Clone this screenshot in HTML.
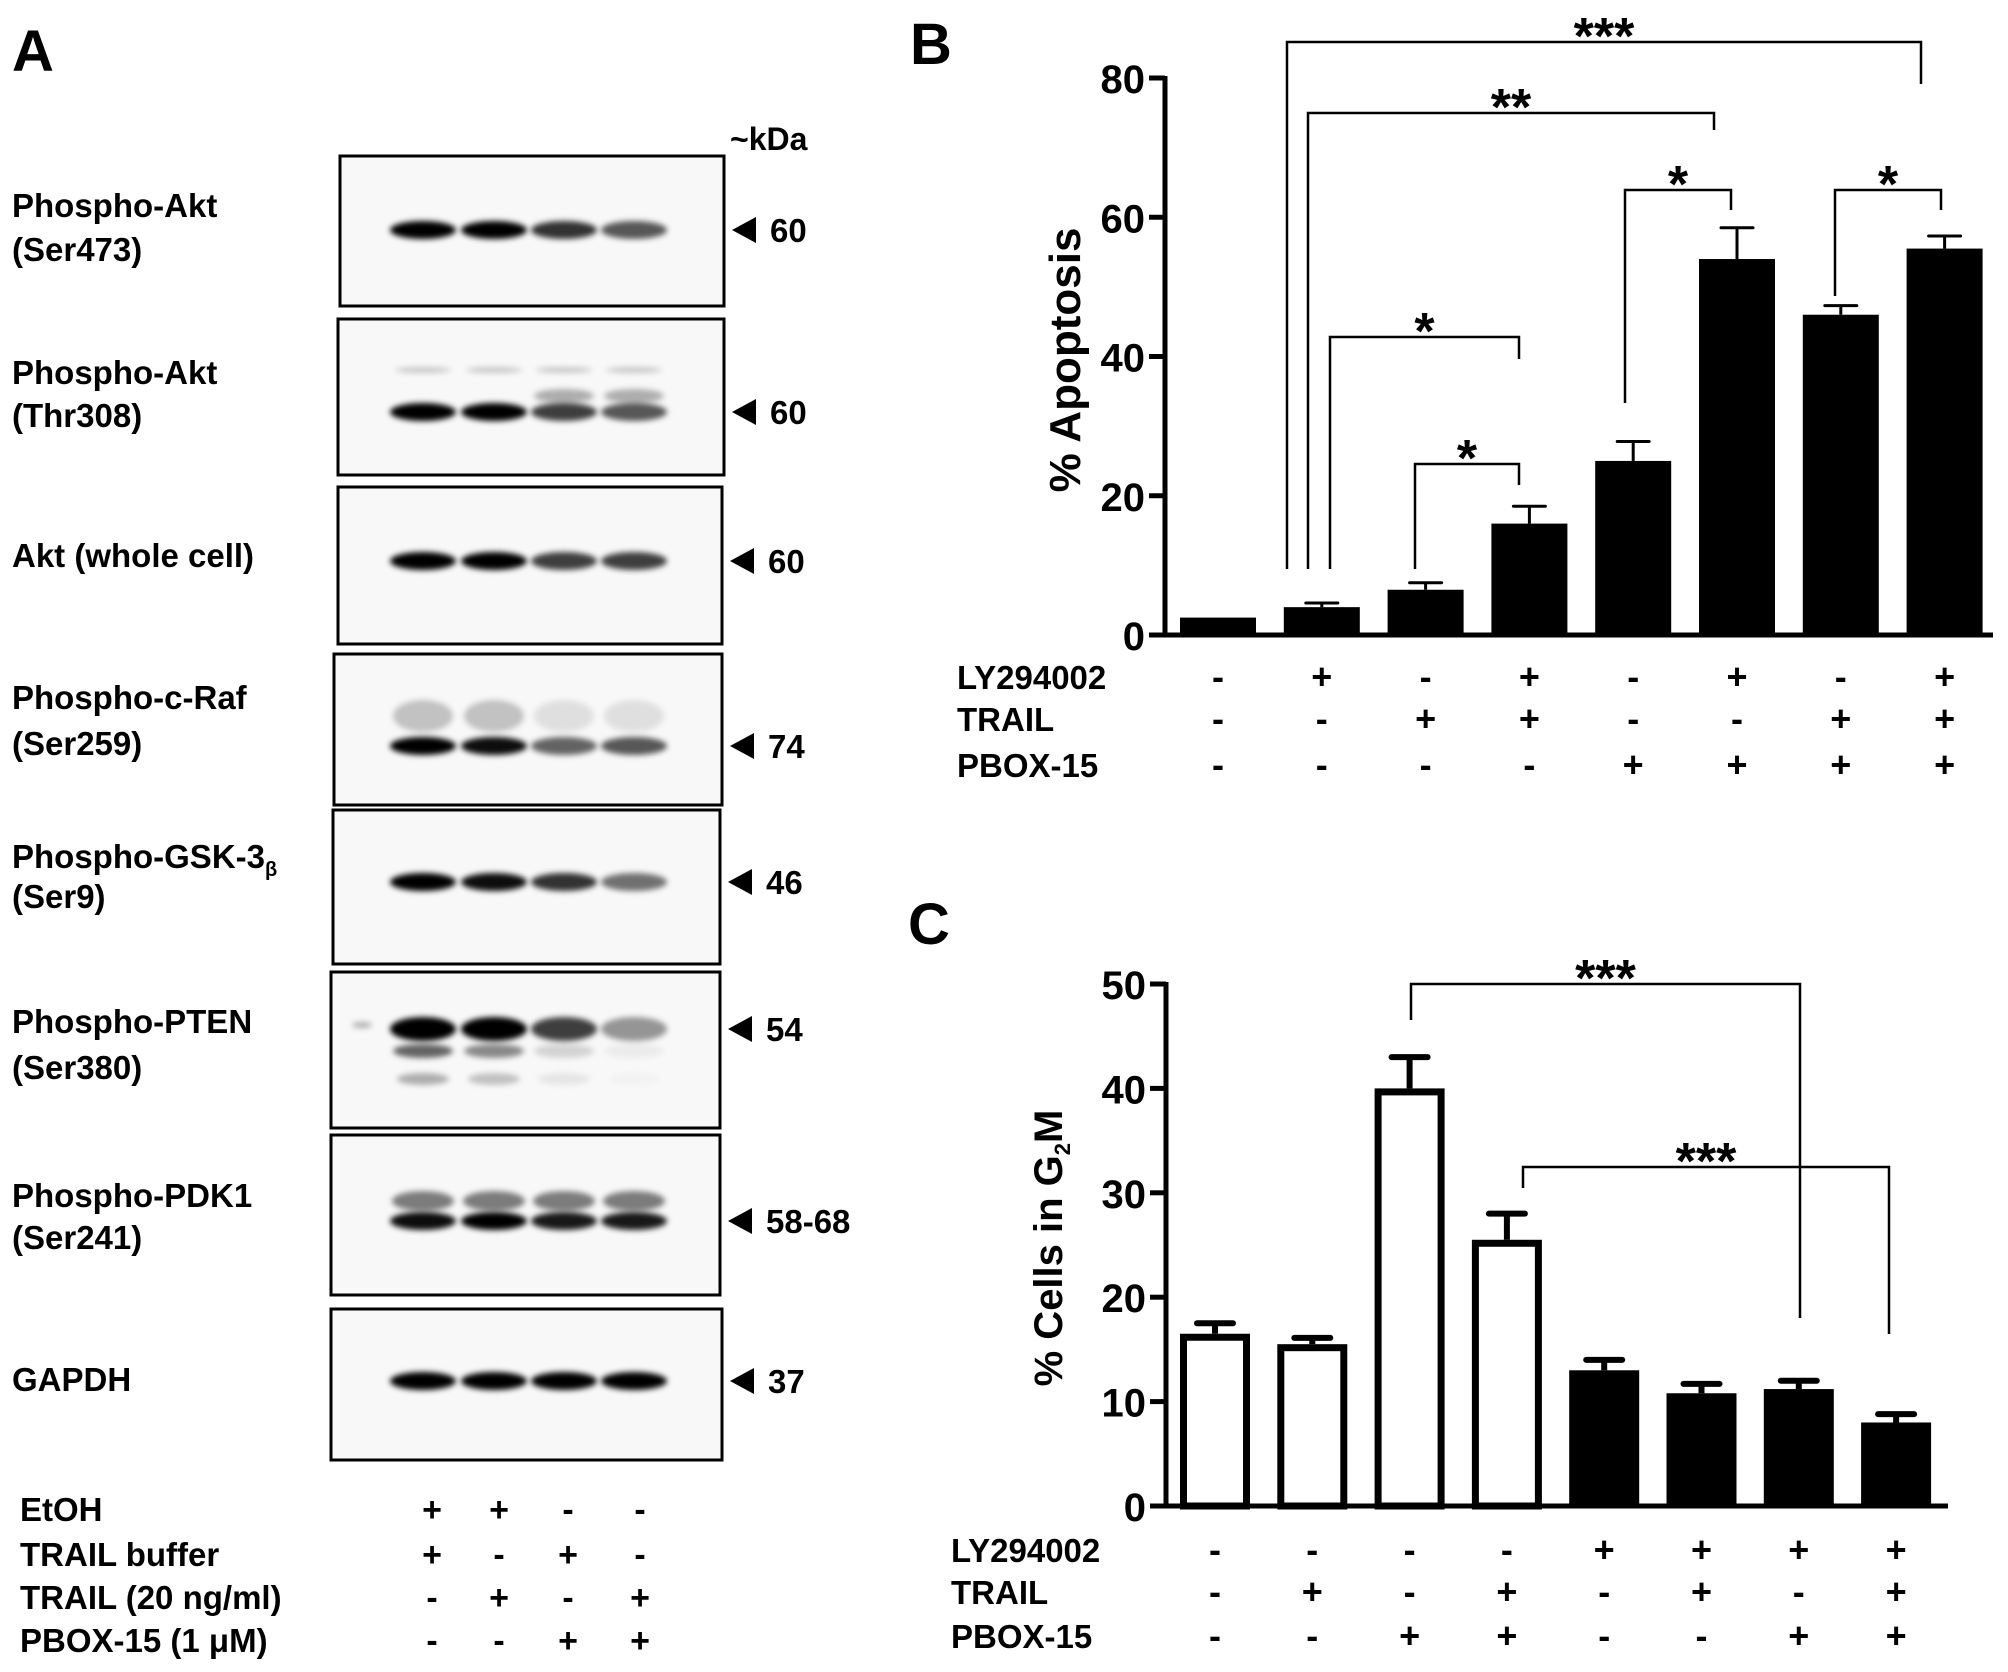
<!DOCTYPE html>
<html><head><meta charset="utf-8"><style>
html,body{margin:0;padding:0;background:#fff}
svg{display:block}
text{font-family:"Liberation Sans",Arial,sans-serif;font-weight:bold;fill:#000}
</style></head><body>
<svg id="fig" width="2008" height="1672" viewBox="0 0 2008 1672" xmlns="http://www.w3.org/2000/svg">
<defs>
<filter id="blur" x="-30%" y="-100%" width="160%" height="300%"><feGaussianBlur stdDeviation="3"/></filter>
</defs>
<text x="12" y="71" font-size="58">A</text>
<text x="910" y="64" font-size="58">B</text>
<text x="908" y="944" font-size="58">C</text>
<g id="blots"></g>
<g id="chartB"></g>
<g id="chartC"></g>
</svg>
<script>
const NS="http://www.w3.org/2000/svg";
function mk(parent,tag,attrs,txt){const e=document.createElementNS(NS,tag);for(const k in attrs)e.setAttribute(k,attrs[k]);if(txt!==undefined)e.textContent=txt;parent.appendChild(e);return e;}

// ---------- Panel A: western blots ----------
const blotNames=["Phospho-Akt (Ser473)","Phospho-Akt (Thr308)","Akt (whole cell)","Phospho-c-Raf (Ser259)","Phospho-GSK-3β (Ser9)","Phospho-PTEN (Ser380)","Phospho-PDK1 (Ser241)","GAPDH"];
const blotKda=["60","60","60","74","46","54","58-68","37"];
const bandMain=[[1,1,0.8,0.65],[1,1,0.75,0.65],[1,1,0.75,0.75],[1,0.95,0.6,0.65],[1,0.95,0.8,0.55],[1,1,0.75,0.4],[0.95,1,0.9,0.9],[1,1,1,1]];
const blotBoxes=[[340,156,724,306],[338,319,724,475],[338,487,722,644],[334,654,722,805],[333,810,720,964],[331,972,720,1128],[331,1135,720,1295],[331,1309,722,1460]];
const blotLabelY=[[205,249],[372,415],[555],[697,743],[856,896],[1021,1067],[1195,1237],[1379]];
const blotBandY=[230,412,561,746,882,1029,1221,1381];
const laneX=[423,494,564,634];
const A=document.getElementById('blots');
mk(A,'text',{x:730,y:150,'font-size':32,},'~kDa');
blotNames.forEach((nm,i)=>{
  const b=blotBoxes[i];
  const g=mk(A,'g',{});
  
  
  mk(g,'rect',{x:b[0],y:b[1],width:b[2]-b[0],height:b[3]-b[1],fill:'#f8f8f8',stroke:'#000','stroke-width':3});
  const parts=i===2||i===7?[nm]:[nm.slice(0,nm.indexOf(' (')),nm.slice(nm.indexOf(' (')+1)];
  parts.forEach((p,j)=>{
    const t=mk(g,'text',{x:12,y:blotLabelY[i][j]+12,'font-size':33},p.replace('3β','3'));
    
    
    if(p.indexOf('3β')>=0){mk(t,'tspan',{'font-size':20,dy:8},'β');}
  });
  const by=blotBandY[i];
  if(i===1){laneX.forEach((x,k)=>{mk(g,'ellipse',{cx:x,cy:by-42,rx:28,ry:3,fill:'#000','fill-opacity':0.2,filter:'url(#blur)'});if(k>1)mk(g,'ellipse',{cx:x,cy:by-16,rx:30,ry:7,fill:'#000','fill-opacity':0.3,filter:'url(#blur)'});});}
  if(i===3){laneX.forEach((x,k)=>{mk(g,'ellipse',{cx:x,cy:by-30,rx:30,ry:16,fill:'#000','fill-opacity':k<2?0.22:0.1,filter:'url(#blur)'});});}
  if(i===5){const s=[0.6,0.45,0.15,0.05];laneX.forEach((x,k)=>{mk(g,'ellipse',{cx:x,cy:by+22,rx:30,ry:7,fill:'#000','fill-opacity':s[k],filter:'url(#blur)'});mk(g,'ellipse',{cx:x,cy:by+50,rx:26,ry:6,fill:'#000','fill-opacity':s[k]*0.5,filter:'url(#blur)'});});mk(g,'ellipse',{cx:362,cy:by-4,rx:10,ry:3,fill:'#000','fill-opacity':0.3,filter:'url(#blur)'});}
  if(i===6){laneX.forEach((x,k)=>{mk(g,'ellipse',{cx:x,cy:by-20,rx:31,ry:10,fill:'#000','fill-opacity':0.5,filter:'url(#blur)'});});}
  bandMain[i].forEach((v,k)=>{
    const e=mk(g,'ellipse',{cx:laneX[k],cy:by,rx:33,ry:i===5?12:9,fill:'#000','fill-opacity':v,filter:'url(#blur)'});
    
    
  });
  mk(g,'polygon',{points:`${b[2]+8},${by} ${b[2]+32},${by-13} ${b[2]+32},${by+13}`,fill:'#000'});
  const kt=mk(g,'text',{x:b[2]+46,y:by+12,'font-size':33},blotKda[i]);
  
  
});
const treatNames=["EtOH","TRAIL buffer","TRAIL (20 ng/ml)","PBOX-15 (1 μM)"];
const treatSigns=[["+","+","-","-"],["+","-","+","-"],["-","+","-","+"],["-","-","+","+"]];
const treatY=[1509,1554,1597,1640];
const treatX=[432,499,568,640];
treatNames.forEach((n,r)=>{
  const t=mk(A,'text',{x:20,y:treatY[r]+12,'font-size':33},n);
  
  
  treatSigns[r].forEach((s,k)=>{mk(A,'text',{x:treatX[k],y:treatY[r]+12,'font-size':34,'text-anchor':'middle'},s);});
});

// ---------- Panel B ----------
const bCategories=["1","2","3","4","5","6","7","8"];
const bValues=[2.5,4,6.5,16,25,54,46,55.5];
const bErrors=[0,0.6,1,2.5,2.8,4.5,1.3,1.8];
const bTicks=[0,20,40,60,80];
const bLY=["-","+","-","+","-","+","-","+"];
const bTRAIL=["-","-","+","+","-","-","+","+"];
const bPBOX=["-","-","-","-","+","+","+","+"];
// ---------- Panel C ----------
const cCategories=["1","2","3","4","5","6","7","8"];
const cValues=[16.5,15.5,40,25.5,13,10.8,11.2,8];
const cErrors=[1,0.6,3,2.5,1,0.9,0.8,0.8];
const cFilled=[0,0,0,0,1,1,1,1];
const cTicks=[0,10,20,30,40,50];
const cLY=["-","-","-","-","+","+","+","+"];
const cTRAIL=["-","+","-","+","-","+","-","+"];
const cPBOX=["-","-","+","+","-","-","+","+"];

function drawChart(G,o){
  const y=v=>o.y0-(v-o.ymin)/(o.ymax-o.ymin)*(o.y0-o.ytop);
  const x=i=>o.x0+i*o.step;
  o.vals.forEach((v,i)=>{
    const cx=x(i);
    if(o.errs[i]>0){
      mk(G,'line',{x1:cx,y1:y(v),x2:cx,y2:y(v+o.errs[i]),stroke:'#000','stroke-width':o.ew});
      mk(G,'line',{x1:cx-o.cap,y1:y(v+o.errs[i]),x2:cx+o.cap,y2:y(v+o.errs[i]),stroke:'#000','stroke-width':o.ew,'stroke-linecap':'round'});
    }
    const filled=o.filled?o.filled[i]:1;
    const sw=7;
    const r=filled?mk(G,'rect',{x:cx-o.bw/2,y:y(v),width:o.bw,height:o.y0-y(v),fill:'#000'}):
      mk(G,'rect',{x:cx-o.bw/2+sw/2,y:y(v)+sw/2,width:o.bw-sw,height:o.y0-y(v)-sw/2,fill:'#fff',stroke:'#000','stroke-width':sw});
    
    
  });
  mk(G,'line',{x1:o.ax,y1:o.y0+2,x2:o.ax,y2:o.ytop-2,stroke:'#000','stroke-width':5});
  mk(G,'line',{x1:o.ax-2,y1:o.y0,x2:o.xend,y2:o.y0,stroke:'#000','stroke-width':5});
  o.ticks.forEach(t=>{
    mk(G,'line',{x1:o.ax-16,y1:y(t),x2:o.ax,y2:y(t),stroke:'#000','stroke-width':5});
    const tl=mk(G,'text',{x:o.ax-20,y:y(t)+15,'font-size':40,'text-anchor':'end'},t);
    
    
  });
  const yl=mk(G,'text',{x:0,y:0,'font-size':o.ylfs,'text-anchor':'middle',transform:`translate(${o.ylx},${o.yly}) rotate(-90)`},o.ylabel);
  
  
  if(o.sub){mk(yl,'tspan',{'font-size':22,dy:8},'2');mk(yl,'tspan',{dy:-8},'M');}
  o.rows.forEach((row,r)=>{
    const rl=mk(G,'text',{x:o.rowx,y:o.rowy[r]+12,'font-size':33},o.rowNames[r]);
    
    
    row.forEach((s,i)=>{mk(G,'text',{x:x(i),y:o.rowy[r]+12,'font-size':36,'text-anchor':'middle'},s);});
  });
  o.brackets.forEach(b=>{
    const [i,j,top,lb,rb,lab]=b;
    const g=mk(G,'g',{});
    
    
    const xl=b[6]!==undefined?b[6]:x(i), xr=b[7]!==undefined?b[7]:x(j);
    mk(g,'polyline',{points:`${xl},${lb} ${xl},${top} ${xr},${top} ${xr},${rb}`,fill:'none',stroke:'#000','stroke-width':2.5});
    mk(g,'text',{x:(xl+xr)/2,y:top+12,'font-size':52,'text-anchor':'middle'},lab);
  });
}
drawChart(document.getElementById('chartB'),{
  cats:bCategories,vals:bValues,errs:bErrors,ticks:bTicks,ymin:0,ymax:80,y0:635,ytop:78,
  x0:1218,step:103.8,bw:76,cap:16,ew:3,ax:1165,xend:1993,
  ylabel:'% Apoptosis',ylfs:44,ylx:1080,yly:360,
  rows:[bLY,bTRAIL,bPBOX],rowNames:['LY294002','TRAIL','PBOX-15'],rowy:[677,719,765],rowx:957,
  brackets:[[1,7,42,569,84,'***',1287,1921],[1,5,113,569,130,'**',1308,1714],[1,3,337,569,359,'*',1330,1519],[2,3,464,569,485,'*',1415,1519],[4,5,190,403,210,'*',1625,1731],[6,7,190,296,210,'*',1835,1941]]
});
drawChart(document.getElementById('chartC'),{
  cats:cCategories,vals:cValues,errs:cErrors,filled:cFilled,ticks:cTicks,ymin:0,ymax:50,y0:1506,ytop:984,
  x0:1215,step:97.3,bw:70,cap:18,ew:6,ax:1166,xend:1948,
  ylabel:'% Cells in G',ylfs:40,ylx:1062,yly:1248,sub:true,
  rows:[cLY,cTRAIL,cPBOX],rowNames:['LY294002','TRAIL','PBOX-15'],rowy:[1550,1592,1636],rowx:951,
  brackets:[[2,6,984,1020,1318,'***',1411,1800],[3,7,1167,1188,1334,'***',1523,1889]]
});
</script>
</body></html>
